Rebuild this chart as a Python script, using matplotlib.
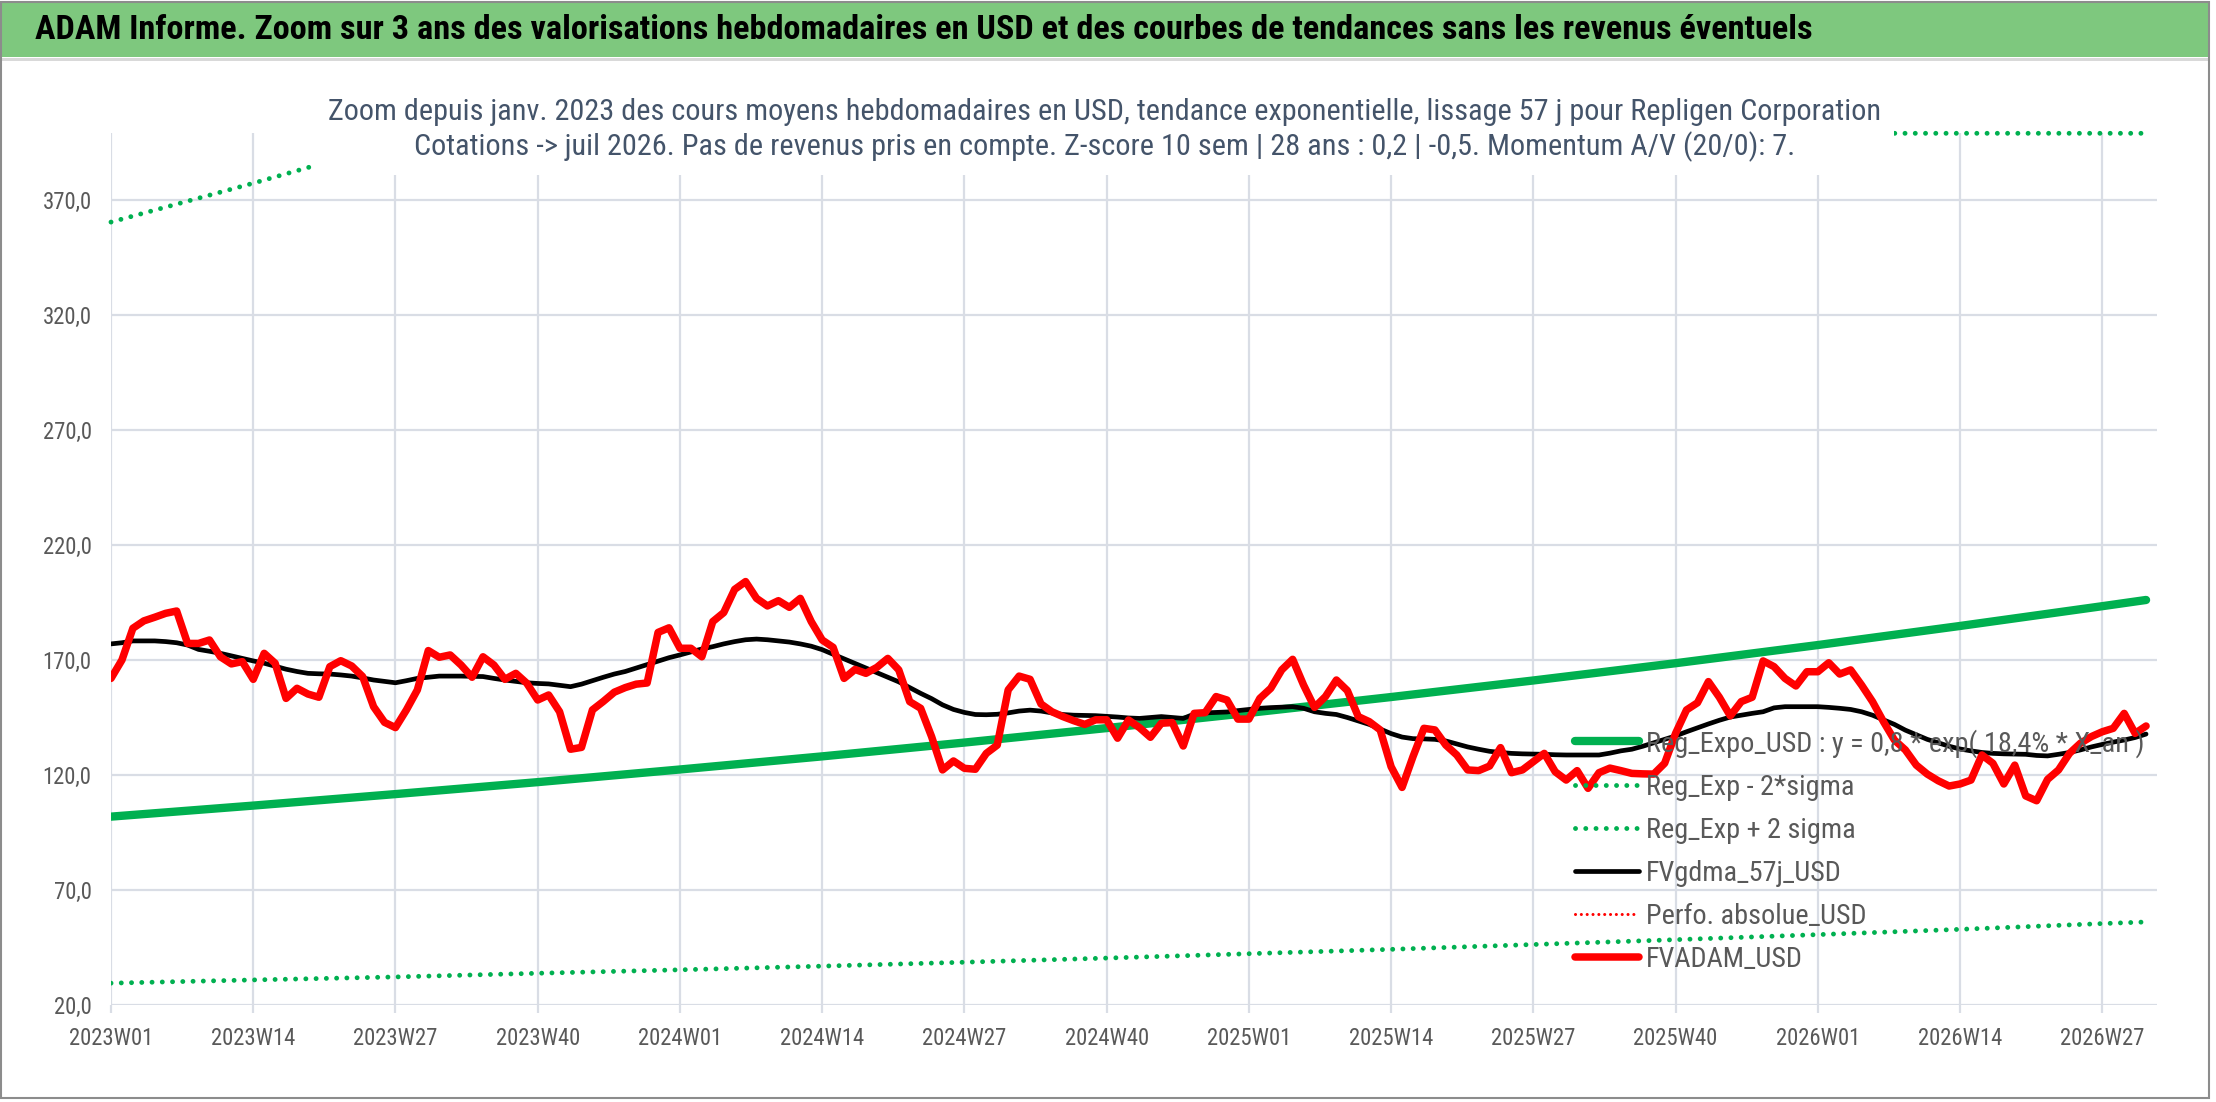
"""
ADAM report chart: 3-year zoom of weekly USD valuations for Repligen Corporation
with exponential trend and +/- 2 sigma bands.
"""
import numpy as np
import matplotlib
matplotlib.use("Agg")
import matplotlib.pyplot as plt
from matplotlib import font_manager
from matplotlib.font_manager import FontProperties
from matplotlib.patches import Rectangle

# ---- data -------------------------------------------------------------------
tick_labels = ['2023W01', '2023W14', '2023W27', '2023W40', '2024W01', '2024W14',
               '2024W27', '2024W40', '2025W01', '2025W14', '2025W27', '2025W40',
               '2026W01', '2026W14', '2026W27']

# FVADAM_USD, weekly average price (one value per week from 2023W01)
fvadam = [162.0, 170.0, 183.8, 187.0, 188.6, 190.3, 191.3, 177.2, 177.2, 178.7,
          171.4, 168.3, 169.3, 161.6, 172.9, 168.6, 153.3, 157.7, 155.2, 153.8,
          167.1, 169.7, 167.4, 162.8, 149.7, 142.9, 140.6, 148.3, 157.0, 174.1,
          171.2, 172.2, 167.8, 162.5, 171.4, 167.8, 161.6, 164.2, 159.9, 152.6,
          154.8, 147.5, 131.2, 132.0, 148.3, 152.0, 156.0, 158.0, 159.5, 160.0,
          182.0, 184.0, 175.1, 175.1, 171.4, 186.7, 190.6, 200.7, 204.1, 196.8,
          193.5, 195.8, 192.9, 196.8, 186.7, 178.7, 175.5, 162.0, 165.9, 164.2,
          166.8, 170.7, 165.7, 151.9, 149.0, 136.7, 122.2, 126.1, 122.9, 122.5,
          129.4, 133.0, 157.0, 163.0, 161.6, 150.9, 147.5, 145.4, 143.6, 142.0,
          144.0, 144.0, 136.0, 143.9, 140.6, 136.4, 142.5, 142.8, 132.6, 146.8,
          147.1, 154.1, 152.6, 144.3, 144.3, 153.3, 157.7, 165.7, 170.3, 159.1,
          149.4, 154.1, 161.3, 156.7, 145.4, 143.2, 139.6, 123.6, 114.6, 128.0,
          140.3, 139.6, 133.0, 128.7, 122.2, 121.9, 123.9, 131.9, 121.0, 122.2,
          125.8, 129.4, 121.4, 117.8, 121.9, 114.2, 121.0, 123.0, 121.9, 120.7,
          120.5, 120.4, 125.1, 138.1, 148.3, 151.4, 160.6, 153.8, 145.7, 151.9,
          153.8, 169.6, 167.1, 162.0, 158.7, 164.9, 164.9, 168.8, 163.9, 165.7,
          159.1, 151.9, 143.2, 135.2, 130.9, 124.3, 120.4, 117.5, 115.2, 116.1,
          117.8, 128.7, 125.1, 116.1, 124.3, 110.9, 108.8, 118.1, 122.2, 129.4,
          133.8, 136.7, 138.8, 140.3, 146.8, 138.1, 141.3]

# FVgdma_57j_USD, smoothed curve
fvgdma = [177.0, 177.5, 178.3, 178.3, 178.3, 178.0, 177.5, 176.5, 174.6, 173.8,
          172.9, 171.8, 170.7, 169.6, 168.6, 167.3, 166.0, 165.0, 164.2, 164.0,
          163.9, 163.5, 163.0, 162.2, 161.3, 160.7, 160.1, 161.0, 162.0, 162.5,
          163.0, 163.0, 163.0, 162.9, 162.8, 162.0, 161.3, 160.7, 160.1, 159.8,
          159.6, 159.0, 158.4, 159.5, 161.0, 162.5, 163.9, 165.0, 166.5, 168.0,
          169.5, 171.0, 172.2, 173.5, 174.8, 175.8, 177.0, 178.0, 178.8, 179.1,
          178.8, 178.3, 177.8, 177.0, 176.0, 174.5, 172.5, 170.5, 168.5, 166.5,
          164.5, 162.5, 160.5, 158.0, 155.5, 153.2, 150.5, 148.5, 147.2, 146.3,
          146.2, 146.4, 147.0, 147.8, 148.2, 147.8, 147.0, 146.3, 146.0, 145.9,
          145.8, 145.5, 145.2, 144.8, 144.6, 145.0, 145.4, 145.0, 144.6, 146.5,
          147.0, 147.2, 147.4, 148.0, 148.5, 149.0, 149.3, 149.5, 149.7, 149.0,
          147.5, 146.8, 146.3, 145.0, 143.5, 142.0, 140.0, 138.0, 136.5, 135.8,
          135.7, 135.5, 134.8, 133.5, 132.2, 131.2, 130.3, 129.8, 129.4, 129.2,
          129.1, 129.0, 128.8, 128.7, 128.7, 128.7, 128.7, 129.5, 130.5, 131.2,
          132.5, 134.0, 135.5, 137.0, 138.8, 140.5, 142.2, 143.8, 145.2, 146.0,
          146.8, 147.5, 149.2, 149.7, 149.7, 149.7, 149.7, 149.4, 149.0, 148.5,
          147.5, 146.0, 144.0, 142.0, 139.5, 137.5, 135.5, 134.0, 132.5, 131.3,
          130.5, 129.8, 129.4, 129.2, 129.1, 129.0, 128.5, 128.3, 129.0, 129.8,
          130.9, 132.2, 133.3, 134.3, 135.2, 136.3, 137.8]

# trend curves, read at every labelled week and at the last week
trend_weeks = [0, 13, 26, 39, 52, 65, 78, 91, 104, 117, 130, 143, 156, 169, 182, 186]
reg_expo = [101.9, 106.7, 111.7, 116.9, 122.4, 128.1, 134.1, 140.4, 147.0, 153.9,
            161.1, 168.6, 176.5, 184.8, 193.4, 196.1]
reg_minus = [29.5, 30.9, 32.2, 33.8, 35.3, 36.9, 38.6, 40.4, 42.3, 44.2,
             46.3, 48.4, 50.6, 52.9, 55.4, 56.1]
reg_plus = [360.4, 377.3, 395.0, 413.5, 432.9, 453.2, 474.4, 496.6, 519.9, 544.3,
            569.8, 596.5, 624.5, 653.8, 684.4, 694.0]
perfo_abs = []  # series listed in the legend, nothing drawn

y_ticks = [20, 70, 120, 170, 220, 270, 320, 370]

banner = ("ADAM Informe. Zoom sur 3 ans des valorisations hebdomadaires en USD "
          "et des courbes de tendances sans les revenus éventuels")
subtitle = ("Zoom depuis janv. 2023 des cours moyens hebdomadaires en USD, tendance "
            "exponentielle, lissage 57 j pour Repligen Corporation\n"
            "Cotations -> juil 2026. Pas de revenus pris en compte. Z-score 10 sem | "
            "28 ans : 0,2 | -0,5. Momentum A/V (20/0): 7.")
labels = ['Reg_Expo_USD : y = 0,8 * exp( 18,4% * X_an )', 'Reg_Exp - 2*sigma',
          'Reg_Exp + 2 sigma', 'FVgdma_57j_USD', 'Perfo. absolue_USD', 'FVADAM_USD']


# ---- font: prefer a narrow face (the original uses Calibri) ------------------
def pick_font():
    entries = font_manager.fontManager.ttflist
    for name in ['Liberation Sans Narrow', 'Roboto Condensed', 'Open Sans Condensed',
                 'Noto Sans Condensed', 'DejaVu Sans Condensed']:
        if any(f.name == name for f in entries):
            return name, 'normal'
    for name in ['Noto Sans', 'Roboto', 'Open Sans', 'DejaVu Sans']:
        if any(f.name == name and 'condensed' in str(f.stretch) for f in entries):
            return name, 'condensed'
    return 'Liberation Sans', 'normal'


FAMILY, STRETCH = pick_font()

GREEN = '#00B050'
RED = '#FF0000'
GRID = '#D9DDE5'
TXT = '#595959'
SUB = '#44546A'
Y_TOP = 399

W, H, DPI = 2216, 1102, 100
fig = plt.figure(figsize=(W / DPI, H / DPI), dpi=DPI)
fig.patch.set_facecolor('white')
renderer = fig.canvas.get_renderer()


def size_for(s, target_px, weight='normal'):
    """font size so that string s is target_px wide"""
    t = fig.text(0, 0, s, fontsize=10, family=FAMILY, fontstretch=STRETCH, fontweight=weight)
    w = t.get_window_extent(renderer).width
    t.remove()
    return 10 * target_px / w


banner_size = size_for(banner, 1780, 'bold')
sub_size = size_for(subtitle.split('\n')[0], 1543)
leg_size = size_for(labels[0], 495)
tick_size = size_for('2026W27', 84)

# banner + frame
fig.patches.append(Rectangle((0.001, 1 - 57 / H), 0.996, 55 / H, transform=fig.transFigure,
                             facecolor='#7EC87E', edgecolor='none', zorder=0))
fig.patches.append(Rectangle((0.001, 1 - 61 / H), 0.996, 3 / H, transform=fig.transFigure,
                             facecolor='#D9D9D9', edgecolor='none', zorder=0))
fig.patches.append(Rectangle((1 / W, 4 / H), 2208 / W, 1096 / H, transform=fig.transFigure,
                             facecolor='none', edgecolor='#8C8C8C', lw=1.5, zorder=1))
fig.text(35 / W, 1 - 30 / H, banner, ha='left', va='center', fontsize=banner_size,
         fontweight='bold', color='black', family=FAMILY, fontstretch=STRETCH)

ax = fig.add_axes([111 / W, (H - 1005) / H, (2157 - 111) / W, (1005 - 133.3) / H])
ax.set_facecolor('white')

weeks = np.arange(len(fvadam))
dotted = (0, (0.01, 2.1))

ax.plot(trend_weeks, reg_expo, color=GREEN, lw=6, solid_capstyle='round', label=labels[0])
ax.plot(trend_weeks, reg_minus, color=GREEN, lw=3.5, linestyle=dotted,
        dash_capstyle='round', label=labels[1])
ax.plot(trend_weeks, np.minimum(reg_plus, Y_TOP), color=GREEN, lw=3.5, linestyle=dotted,
        dash_capstyle='round', clip_on=False, label=labels[2])
ax.plot(weeks, fvgdma, color='black', lw=3.4, solid_capstyle='round', label=labels[3])
ax.plot(perfo_abs, perfo_abs, color=RED, lw=2.2, linestyle=(0, (0.01, 1.9)),
        dash_capstyle='round', label=labels[4])
ax.plot(weeks, fvadam, color=RED, lw=5.4, solid_joinstyle='round',
        solid_capstyle='round', label=labels[5])

ax.set_xlim(0, 187)
ax.set_ylim(20, Y_TOP)
ax.set_xticks(np.arange(len(tick_labels)) * 13)
ax.set_xticklabels(tick_labels)
ax.set_yticks(y_ticks)
ax.set_yticklabels([f"{v:.1f}".replace('.', ',') for v in y_ticks])
ax.grid(True, color=GRID, lw=1.6)
ax.set_axisbelow(True)
for s in ax.spines.values():
    s.set_visible(False)
ax.tick_params(axis='x', length=6, width=1.6, color=GRID, pad=10, labelsize=tick_size,
               labelcolor=TXT)
ax.tick_params(axis='y', length=0, pad=14, labelsize=tick_size, labelcolor=TXT)
for t in ax.get_xticklabels() + ax.get_yticklabels():
    t.set_family(FAMILY)
    t.set_stretch(STRETCH)

# legend: rows 43 px apart, first row centred at y = 742 px
leg_px = leg_size * DPI / 72
leg = ax.legend(loc='upper left', bbox_to_anchor=(1575 / W, 1 - (742 - 0.46 * leg_px) / H),
                bbox_transform=fig.transFigure, frameon=False, borderpad=0,
                borderaxespad=0, handlelength=64 / leg_px, handletextpad=7 / leg_px,
                labelspacing=max(43 / leg_px - 0.95, 0.1),
                prop=FontProperties(family=FAMILY, stretch=STRETCH, size=leg_size))
for t in leg.get_texts():
    t.set_color(TXT)

# subtitle box sits over the plot (white fill, hides the top of the +2 sigma band)
fig.text(1105 / W, 1 - 130 / H, subtitle, ha='center', va='center', fontsize=sub_size,
         color=SUB, family=FAMILY, fontstretch=STRETCH, linespacing=1.22, zorder=10,
         bbox=dict(facecolor='white', edgecolor='none', boxstyle='square,pad=0.42'))

fig.savefig('out.png', dpi=DPI, facecolor='white')
